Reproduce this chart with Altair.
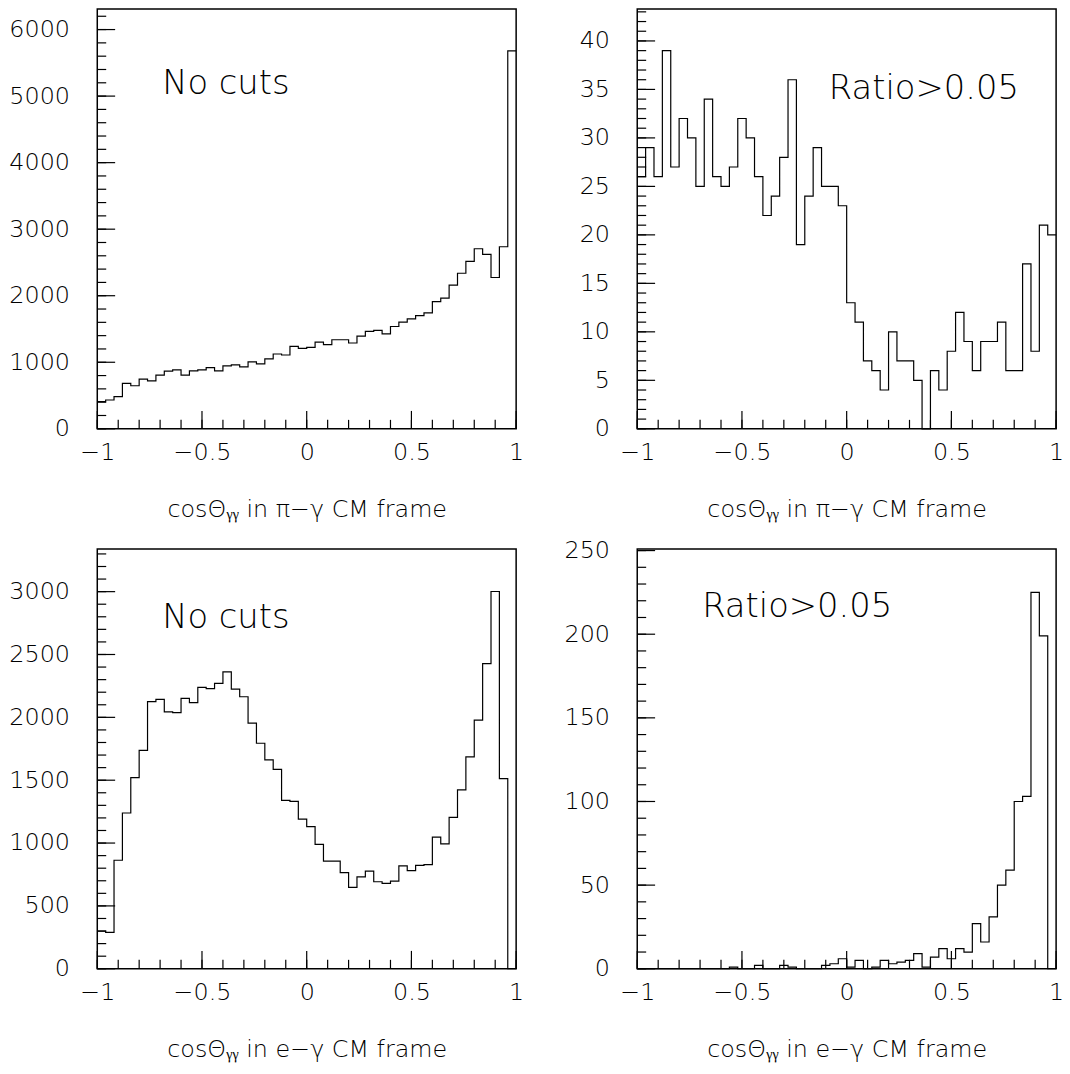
import altair as alt
import numpy as np
import pandas as pd

# ---- data (counts per bin, 50 bins from -1 to 1) ----
pi_nocut = [408, 433, 483, 682, 647, 746, 721, 806, 866, 886,
            806, 871, 886, 920, 871, 945, 960, 930, 1005, 975,
            1050, 1124, 1109, 1239, 1209, 1224, 1303, 1264, 1338, 1338,
            1289, 1393, 1463, 1478, 1428, 1537, 1602, 1652, 1701, 1741,
            1910, 1965, 2159, 2338, 2517, 2706, 2622, 2274, 2736, 5681]
pi_ratio = [26, 29, 26, 39, 27, 32, 30, 25, 34, 26,
            25, 27, 32, 30, 26, 22, 24, 28, 36, 19,
            24, 29, 25, 25, 23, 13, 11, 7, 6, 4,
            10, 7, 7, 5, 0, 6, 4, 8, 12, 9,
            6, 9, 9, 11, 6, 6, 17, 8, 21, 20]
e_nocut = [300, 290, 863, 1239, 1520, 1738, 2125, 2143, 2043, 2038,
           2151, 2117, 2238, 2228, 2270, 2362, 2225, 2164, 1954, 1794,
           1662, 1586, 1339, 1331, 1191, 1131, 989, 857, 857, 765,
           647, 731, 776, 692, 679, 697, 818, 781, 823, 828,
           1047, 994, 1205, 1423, 1686, 1978, 2427, 3001, 1512, 0]
e_ratio = [0, 0, 0, 0, 0, 0, 0, 0, 0, 0,
           0, 1, 0, 0, 2, 0, 0, 2, 1, 0,
           0, 0, 2, 3, 6, 1, 5, 0, 1, 5,
           3, 4, 5, 9, 1, 7, 12, 6, 12, 10,
           27, 16, 31, 50, 59, 100, 103, 225, 199, 0]

edges = list(np.linspace(-1, 1, 51))
x_label_values = [-1, -0.5, 0, 0.5, 1]
x_tick_values = [round(v, 1) for v in np.arange(-1, 1.0001, 0.1)]

title_pi = "cosΘᵧᵧ in π−γ CM frame"
title_e = "cosΘᵧᵧ in e−γ CM frame"

FONT = "DejaVu Sans"
W, H = 422, 423

common_axis = dict(domain=False, ticks=False, grid=False, labelFlush=False,
                   labelFont=FONT, labelFontSize=24, labelFontWeight=200,
                   labelColor="black", titleFont=FONT, titleFontSize=24,
                   titleFontWeight=200, titleColor="black")


def panel(vals, ymax, major, minor, note, nx, ny, title):
    xs = alt.Scale(domain=[-1, 1], nice=False, zero=False)
    ys = alt.Scale(domain=[0, ymax], nice=False, zero=True)
    major_vals = [float(v) for v in np.arange(0, ymax + 1e-9, major)]
    minor_vals = [float(v) for v in np.arange(0, ymax + 1e-9, minor)]
    xax = alt.Axis(values=x_label_values, format="~g", title=title,
                   labelPadding=12, titlePadding=33, **common_axis)
    yax = alt.Axis(values=major_vals, format="d", title=None,
                   labelPadding=28, **common_axis)

    def X(f):
        return alt.X(f, type="quantitative", scale=xs, axis=xax)

    def Y(f):
        return alt.Y(f, type="quantitative", scale=ys, axis=yax)

    df = pd.DataFrame({"x": edges, "y": list(vals) + [vals[-1]]})
    line = alt.Chart(df).mark_line(
        interpolate="step-after", color="black", strokeWidth=1.2
    ).encode(x=X("x"), y=Y("y"))
    ymaj = alt.Chart(pd.DataFrame({"v": major_vals})).mark_rule(
        color="black", strokeWidth=1.2).encode(
        y=Y("v"), x=alt.value(0), x2=alt.value(18))
    ymin = alt.Chart(pd.DataFrame({"v": minor_vals})).mark_rule(
        color="black", strokeWidth=1.2).encode(
        y=Y("v"), x=alt.value(0), x2=alt.value(9))
    xmaj = alt.Chart(pd.DataFrame({"v": x_label_values})).mark_rule(
        color="black", strokeWidth=1.2).encode(
        x=X("v"), y=alt.value(H), y2=alt.value(H - 18))
    xmin = alt.Chart(pd.DataFrame({"v": x_tick_values})).mark_rule(
        color="black", strokeWidth=1.2).encode(
        x=X("v"), y=alt.value(H), y2=alt.value(H - 9))
    txt = alt.Chart(pd.DataFrame({"x": [nx], "y": [ny], "t": [note]})).mark_text(
        align="left", baseline="middle", fontSize=34, font=FONT,
        fontWeight=200, color="black").encode(
        x=X("x"), y=Y("y"), text="t:N")
    return alt.layer(ymin, ymaj, xmin, xmaj, line, txt).properties(
        width=W, height=H,
        view=alt.ViewBackground(stroke="black", strokeWidth=1.5))


p1 = panel(pi_nocut, 6310, 1000, 200, "No cuts", -0.69, 5180, title_pi)
p2 = panel(pi_ratio, 43.3, 5, 1, "Ratio>0.05", -0.085, 35, title_pi)
p3 = panel(e_nocut, 3340, 500, 100, "No cuts", -0.69, 2790, title_e)
p4 = panel(e_ratio, 251, 50, 10, "Ratio>0.05", -0.69, 216, title_e)

chart = alt.concat(
    p1, p2, p3, p4, columns=2,
    spacing=alt.RowColnumber(row=121, column=122),
    bounds="flush",
).properties(
    padding={"left": 8, "top": 4, "right": 5, "bottom": 5},
    background="white",
).configure_view(
    stroke="black", strokeWidth=1.5
)

chart.save("out.html", embed_options={"renderer": "svg", "actions": False})
